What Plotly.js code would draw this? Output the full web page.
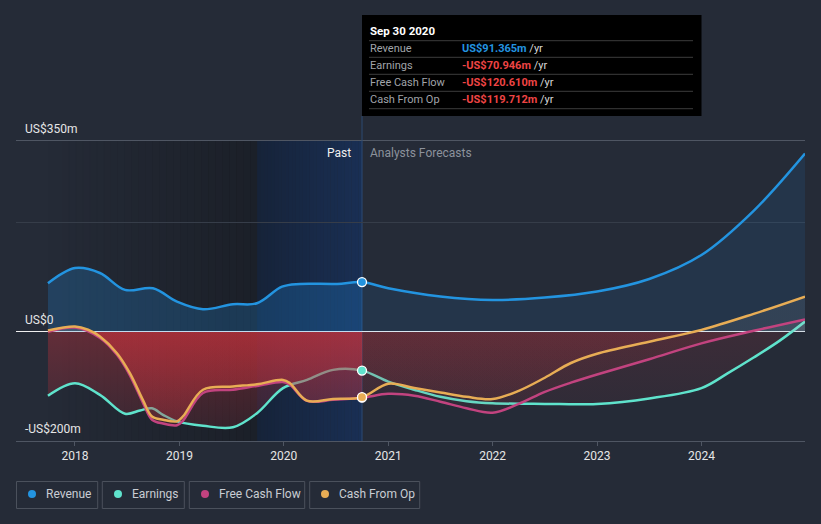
<!DOCTYPE html>
<html>
<head>
<meta charset="utf-8">
<script src="https://cdn.plot.ly/plotly-3.0.1.min.js"></script>
<style>
html,body{margin:0;padding:0;background:#252b37;}
#chart{width:821px;height:524px;}
</style>
</head>
<body>
<div id="chart"></div>
<script>
// ---------- DATA (US$ millions) ----------
const revenueX = [2017.741,2018.0,2018.239,2018.479,2018.747,2018.977,2019.226,2019.513,2019.743,2019.983,2020.155,2020.51,2020.749,2021.0,2021.5,2022.0,2022.5,2023.0,2023.5,2024.0,2024.5,2024.992];
const revenueY = [89,117,108,77,80,55.5,41.5,50.7,52.5,83,88,88,91.365,80,65,58.6,63,74,97,141,222,327];

const earningsX = [2017.741,2018.0,2018.239,2018.479,2018.623,2018.738,2018.843,2018.977,2019.226,2019.513,2019.743,2019.992,2020.222,2020.471,2020.749,2021.0,2021.25,2021.5,2021.75,2022.0,2022.5,2023.0,2023.5,2024.0,2024.25,2024.5,2024.75,2024.992];
const earningsY = [-117,-94,-115.5,-150,-144,-140,-152,-164,-172,-174.7,-149,-103,-88,-69.6,-70.946,-91,-106,-119,-127,-130.7,-132,-132,-122,-103,-76,-47,-16,19];

const fcfX = [2017.741,2018.0,2018.239,2018.402,2018.527,2018.651,2018.738,2018.843,2018.977,2019.034,2019.226,2019.513,2019.743,2019.992,2020.059,2020.222,2020.471,2020.749,2021.0,2021.25,2021.5,2021.75,2022.0,2022.25,2022.5,2022.75,2023.0,2023.5,2024.0,2024.5,2024.992];
const fcfY = [0,8,-11,-42,-80,-130,-161,-168,-171,-163,-112,-106,-99,-92,-97,-126.5,-124.6,-120.61,-113.6,-117,-128,-140,-148,-132,-110,-93,-78,-50,-21,2,23];

const cfoX = [2017.741,2018.0,2018.125,2018.239,2018.402,2018.527,2018.651,2018.738,2018.843,2018.977,2019.034,2019.226,2019.513,2019.743,2019.992,2020.059,2020.222,2020.471,2020.749,2021.0,2021.25,2021.5,2021.75,2022.0,2022.25,2022.5,2022.75,2023.0,2023.5,2024.0,2024.5,2024.992];
const cfoY = [2.5,10,4,-8.5,-39,-76,-125,-155,-161,-164,-155,-106,-100,-96,-88,-94,-126,-123,-119.712,-95,-103,-111,-119,-123,-108,-84,-57,-40,-18,3.7,33,64.7];

const yearTicks = [2018,2019,2020,2021,2022,2023,2024];
const yearLabels = ['2018','2019','2020','2021','2022','2023','2024'];
const yTickLabels = ['US$350m','US$0','-US$200m'];

const pastStart = 2017.741, pastBlueStart = 2019.745, forecastStart = 2020.749;
const tipDate = 'Sep 30 2020';
const tipRows = [
  {name:'Revenue', value:'US$91.365m', color:'#2394e0'},
  {name:'Earnings', value:'-US$70.946m', color:'#ef4444'},
  {name:'Free Cash Flow', value:'-US$120.610m', color:'#ef4444'},
  {name:'Cash From Op', value:'-US$119.712m', color:'#ef4444'}
];
const seriesNames = ['Revenue','Earnings','Free Cash Flow','Cash From Op'];
const seriesColors = ['#2394e0','#5fe3cc','#c2437f','#e8ad55'];

// ---------- helpers ----------
const px = x => (x - 16) / 789;
const py = y => (441 - y) / 300;
function split(xs, ys, past) {
  const ox = [], oy = [];
  xs.forEach((x, i) => {
    if (past ? x <= forecastStart + 1e-6 : x >= forecastStart - 1e-6) { ox.push(x); oy.push(ys[i]); }
  });
  return {x: ox, y: oy};
}
const Z = 200/550;
function negScale(a0, a1, g) {
  return [[0,`rgba(200,50,60,${a1})`],[Z-0.0005,`rgba(200,50,60,${a0})`],[Z+0.0005,`rgba(200,200,200,${g})`],[1,`rgba(200,200,200,${g})`]];
}
function fillTrace(xs, ys, past, isRevenue) {
  const d = split(xs, ys, past);
  const t = {x:d.x, y:d.y, type:'scatter', mode:'lines', line:{width:0, shape:'spline', smoothing:1},
    fill:'tozeroy', hoverinfo:'skip', showlegend:false};
  if (isRevenue) {
    t.fillcolor = past ? 'rgba(33,150,243,0.22)' : 'rgba(33,150,243,0.10)';
  } else {
    t.fillcolor = 'rgba(0,0,0,0)';
    t.fillgradient = {type:'vertical', start:-200, stop:350,
      colorscale: past ? negScale(0.38, 0.12, 0.10) : negScale(0.14, 0.03, 0.09)};
  }
  return t;
}
function lineTrace(xs, ys, color) {
  return {x:xs, y:ys, type:'scatter', mode:'lines', line:{color:color, width:2.5, shape:'spline', smoothing:1},
    hoverinfo:'skip', showlegend:false};
}
function markerTrace(x, y, color) {
  return {x:[x], y:[y], type:'scatter', mode:'markers',
    marker:{size:9, color:color, line:{color:'#ffffff', width:1.3}}, hoverinfo:'skip', showlegend:false};
}

const traces = [
  fillTrace(revenueX, revenueY, true, true),
  fillTrace(revenueX, revenueY, false, true),
  fillTrace(earningsX, earningsY, true, false),
  fillTrace(earningsX, earningsY, false, false),
  lineTrace(earningsX, earningsY, seriesColors[1]),
  fillTrace(fcfX, fcfY, true, false),
  fillTrace(fcfX, fcfY, false, false),
  fillTrace(cfoX, cfoY, true, false),
  fillTrace(cfoX, cfoY, false, false),
  lineTrace(fcfX, fcfY, seriesColors[2]),
  lineTrace(cfoX, cfoY, seriesColors[3]),
  lineTrace(revenueX, revenueY, seriesColors[0]),
  markerTrace(forecastStart, revenueY[revenueX.indexOf(forecastStart)], seriesColors[0]),
  markerTrace(forecastStart, earningsY[earningsX.indexOf(forecastStart)], seriesColors[1]),
  markerTrace(forecastStart, fcfY[fcfX.indexOf(forecastStart)], seriesColors[2]),
  markerTrace(forecastStart, cfoY[cfoX.indexOf(forecastStart)], seriesColors[3])
];

// ---------- shapes ----------
const shapes = [];
const N = 30;
for (let i = 0; i < N; i++) {
  const t = (i + 0.5) / N;
  shapes.push({type:'rect', layer:'below', xref:'x', yref:'y',
    x0: pastStart + (pastBlueStart - pastStart) * i / N, x1: pastStart + (pastBlueStart - pastStart) * (i + 1) / N + 0.003,
    y0:-200, y1:350, line:{width:0}, fillcolor:`rgba(0,0,0,${(0.26*t).toFixed(3)})`});
}
for (let i = 0; i < N; i++) {
  const t = (i + 0.5) / N;
  const r = Math.round(22 + 3*t), g = Math.round(35 + 12*t), b = Math.round(57 + 27*t);
  shapes.push({type:'rect', layer:'below', xref:'x', yref:'y',
    x0: pastBlueStart + (forecastStart - pastBlueStart) * i / N, x1: pastBlueStart + (forecastStart - pastBlueStart) * (i + 1) / N + 0.002,
    y0:-200, y1:350, line:{width:0}, fillcolor:`rgb(${r},${g},${b})`});
}
shapes.push({type:'line', layer:'below', xref:'x', yref:'y', x0:forecastStart, x1:forecastStart, y0:-200, y1:350, line:{color:'#2d4a73', width:1}});
shapes.push({type:'line', xref:'paper', yref:'paper', x0:px(362), x1:px(362), y0:py(141), y1:py(116), line:{color:'#2d4a73', width:1}});
// tooltip
shapes.push({type:'rect', xref:'paper', yref:'paper', x0:px(362), x1:px(701.5), y0:py(15), y1:py(116), fillcolor:'#000000', line:{width:0}});
[40.7, 57.3, 74.3, 91.3, 108.7].forEach(y => shapes.push({type:'line', xref:'paper', yref:'paper',
  x0:px(369), x1:px(693), y0:py(y), y1:py(y), line:{color:'#3c3c3c', width:1}}));
// legend boxes
const legBoxes = [[16.5,97.7],[102.3,184.3],[189.3,304.7],[309.7,419.7]];
const legDots = [32,118,205,325];
legBoxes.forEach((b, i) => {
  shapes.push({type:'rect', xref:'paper', yref:'paper', x0:px(b[0]), x1:px(b[1]), y0:py(481.5), y1:py(508.5),
    fillcolor:'rgba(0,0,0,0)', line:{color:'#4b515c', width:1}});
  shapes.push({type:'circle', xref:'paper', yref:'paper', x0:px(legDots[i]-4), x1:px(legDots[i]+4), y0:py(490), y1:py(498),
    fillcolor:seriesColors[i], line:{width:0}});
});

// ---------- annotations ----------
const ann = [];
function text(x, y, s, opts) {
  ann.push(Object.assign({xref:'paper', yref:'paper', x:px(x), y:py(y), text:s, showarrow:false,
    xanchor:'left', yanchor:'middle', font:{family:'Roboto', size:12, color:'#e6e6e6'}}, opts || {}));
}
text(23, 129, yTickLabels[0]);
text(23, 320, yTickLabels[1]);
text(23, 429, yTickLabels[2]);
text(353, 153, 'Past', {xanchor:'right', font:{family:'Roboto', size:12, color:'#f0f0f0'}});
text(368, 153, 'Analysts Forecasts', {font:{family:'Roboto', size:12, color:'#8c929c'}});
text(368, 31, '<b>' + tipDate + '</b>', {font:{family:'Roboto', size:11.5, color:'#ffffff'}});
[48.5, 65.5, 82.5, 99.5].forEach((y, i) => {
  text(368, y, tipRows[i].name, {font:{family:'Roboto', size:11, color:'#a0a4aa'}});
  text(460, y, `<span style="color:${tipRows[i].color}"><b>${tipRows[i].value}</b></span> /yr`, {font:{family:'Roboto', size:11, color:'#d8d8d8'}});
});
const legText = [44,130,217,337];
seriesNames.forEach((n, i) => text(legText[i], 494.5, n, {font:{family:'Roboto', size:12, color:'#c9cdd3'}}));

const layout = {
  width:821, height:524,
  margin:{l:16, r:16, t:141, b:83, pad:0},
  paper_bgcolor:'#252b37', plot_bgcolor:'rgba(0,0,0,0)',
  showlegend:false,
  xaxis:{range:[2017.435, 2024.992], tickvals:yearTicks, ticktext:yearLabels, showgrid:false, zeroline:false,
    showline:true, mirror:true, linecolor:'#4f5663', linewidth:1, ticks:'outside', ticklen:4, tickcolor:'#4f5663',
    tickfont:{family:'Roboto', size:12, color:'#e6e6e6'}, fixedrange:true},
  yaxis:{range:[-200, 350], tickvals:[200], showticklabels:false, showgrid:true, gridcolor:'#363d49', gridwidth:1,
    zeroline:true, zerolinecolor:'#f0f0f0', zerolinewidth:1, showline:false, fixedrange:true},
  shapes:shapes,
  annotations:ann,
  hovermode:false
};
Plotly.newPlot('chart', traces, layout, {displayModeBar:false, staticPlot:true});
</script>
</body>
</html>
